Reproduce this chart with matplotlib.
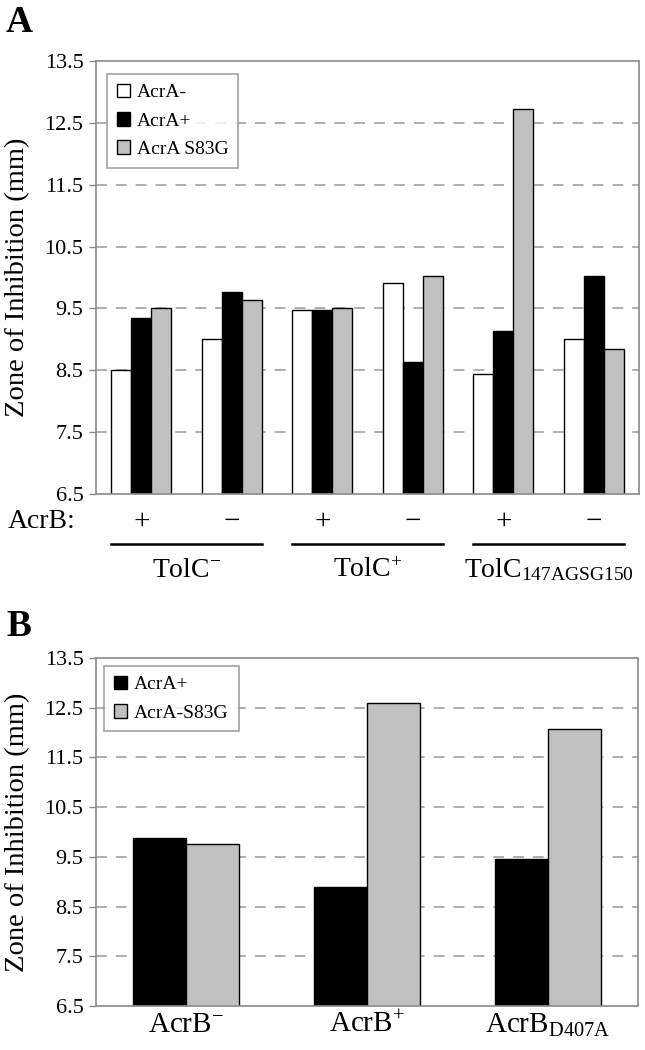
import numpy as np
import matplotlib
matplotlib.use('Agg')
import matplotlib.pyplot as plt
from matplotlib.patches import Patch
import matplotlib.transforms as mtransforms

plt.rcParams['font.family'] = ['Liberation Serif', 'DejaVu Serif']
plt.rcParams['mathtext.fontset'] = 'custom'
plt.rcParams['mathtext.rm'] = 'Liberation Serif'
plt.rcParams['mathtext.it'] = 'Liberation Serif:italic'

# panel A data
acrb_signs = ['+', '\u2212', '+', '\u2212', '+', '\u2212']
tolc_groups = [r'TolC$^{-}$', r'TolC$^{+}$', r'TolC$_{\mathrm{147AGSG150}}$']
acrA_minus = [8.50, 9.00, 9.47, 9.91, 8.44, 9.00]
acrA_plus = [9.34, 9.77, 9.47, 8.64, 9.14, 10.02]
acrA_s83g = [9.51, 9.64, 9.51, 10.02, 12.72, 8.84]
seriesA_names = ['AcrA-', 'AcrA+', 'AcrA S83G']

# panel B data
acrb_cats = [r'AcrB$^{-}$', r'AcrB$^{+}$', r'AcrB$_{\mathrm{D407A}}$']
b_acrA_plus = [9.87, 8.90, 9.45]
b_acrA_s83g = [9.75, 12.59, 12.07]
seriesB_names = ['AcrA+', 'AcrA-S83G']

yticks = [6.5, 7.5, 8.5, 9.5, 10.5, 11.5, 12.5, 13.5]

GRAY = '#c0c0c0'
SPINE = '#8a8a8a'

fig = plt.figure(figsize=(6.45, 10.5), dpi=100)
axA = fig.add_axes([96/645, 1-494/1050, 543/645, 433/1050])
axB = fig.add_axes([96/645, 1-1006/1050, 542/645, 348/1050])


def style_axis(ax):
	ax.set_ylim(6.5, 13.5)
	ax.set_yticks(yticks)
	ax.set_yticklabels([str(t) for t in yticks], fontsize=16)
	for t in yticks[1:-1]:
		ax.axhline(t, color='#a8a8a8', lw=1.3, dashes=(6, 5), zorder=0)
	for s in ax.spines.values():
		s.set_color(SPINE)
		s.set_linewidth(1.2)
	ax.tick_params(axis='y', length=5, width=1, color=SPINE, pad=4)
	ax.tick_params(axis='x', length=0)
	ax.set_ylabel('Zone of Inhibition (mm)', fontsize=20.5)
	ax.yaxis.set_label_coords(-0.122, 0.5)


# ---- panel A ----
x = np.arange(len(acrA_minus))
w = 1 / 4.5
axA.bar(x - w, acrA_minus, w, color='white', edgecolor='black', lw=1, zorder=2)
axA.bar(x, acrA_plus, w, color='black', edgecolor='black', lw=1, zorder=2)
axA.bar(x + w, acrA_s83g, w, color=GRAY, edgecolor='black', lw=1, zorder=2)
axA.set_xlim(-0.5, len(x) - 0.5)
style_axis(axA)
axA.set_xticks([])

trA = mtransforms.blended_transform_factory(axA.transData, axA.transAxes)
for i, s in enumerate(acrb_signs):
	axA.text(x[i], -0.065, s, transform=trA, ha='center', va='center', fontsize=21, clip_on=False)
for k, lab in enumerate(tolc_groups):
	x0 = x[2*k] - 1.5*w
	x1 = x[2*k+1] + 1.5*w
	axA.plot([x0, x1], [-0.116, -0.116], color='black', lw=1.8, transform=trA, clip_on=False)
	axA.text((x0 + x1) / 2, -0.192, lab, transform=trA, ha='center', va='baseline', fontsize=20, clip_on=False)
fig.text(8/645, 1-522/1050, 'AcrB:', ha='left', va='center', fontsize=20)

handlesA = [Patch(facecolor=c, edgecolor='black', lw=1) for c in ['white', 'black', GRAY]]
legA = axA.legend(handlesA, seriesA_names, loc='upper left', bbox_to_anchor=(0.02, 0.97),
	fontsize=14, frameon=True, fancybox=False, handlelength=0.7, handleheight=0.7,
	handletextpad=0.35, labelspacing=0.55, borderpad=0.5, borderaxespad=0)
legA.get_frame().set_edgecolor(SPINE)
legA.get_frame().set_linewidth(1.2)

# ---- panel B ----
xb = np.arange(len(b_acrA_plus))
wb = 0.293
axB.bar(xb - wb/2, b_acrA_plus, wb, color='black', edgecolor='black', lw=1, zorder=2)
axB.bar(xb + wb/2, b_acrA_s83g, wb, color=GRAY, edgecolor='black', lw=1, zorder=2)
axB.set_xlim(-0.5, len(xb) - 0.5)
style_axis(axB)
axB.set_xticks(xb)
axB.set_xticklabels(acrb_cats, fontsize=21)
axB.tick_params(axis='x', pad=4)

handlesB = [Patch(facecolor=c, edgecolor='black', lw=1) for c in ['black', GRAY]]
legB = axB.legend(handlesB, seriesB_names, loc='upper left', bbox_to_anchor=(0.015, 0.977),
	fontsize=14, frameon=True, fancybox=False, handlelength=0.7, handleheight=0.7,
	handletextpad=0.35, labelspacing=0.55, borderpad=0.5, borderaxespad=0)
legB.get_frame().set_edgecolor(SPINE)
legB.get_frame().set_linewidth(1.2)

fig.text(6/645, 1-22/1050, 'A', fontsize=27, fontweight='bold', va='center', ha='left')
fig.text(6/645, 1-627/1050, 'B', fontsize=27, fontweight='bold', va='center', ha='left')

fig.savefig('out.png', dpi=100)
plt.close(fig)
